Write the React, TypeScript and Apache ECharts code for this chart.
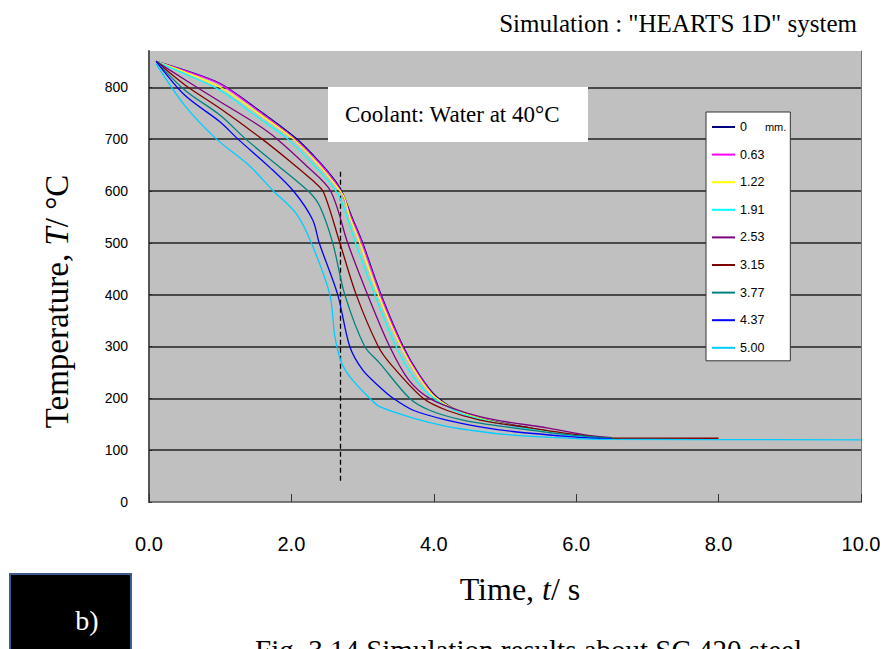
import React, { useEffect, useRef } from 'react';
import * as echarts from 'echarts';

// Distances (mm) from the surface and series colours
const seriesNames = ['0', '0.63', '1.22', '1.91', '2.53', '3.15', '3.77', '4.37', '5.00'];
const seriesColors = ['#000080', '#FF00FF', '#FFFF00', '#00FFFF', '#800080', '#800000', '#008080', '#0000FF', '#00CCFF'];

// [time s, temperature °C]
const d000 = [[0.1, 850], [0.5, 833], [1.0, 807], [1.5, 760], [2.07, 701], [2.4, 655], [2.63, 617], [2.72, 595], [2.85, 550], [3.0, 500], [3.26, 400], [3.57, 300], [3.8, 245], [4.04, 203], [4.41, 171], [4.83, 156], [5.35, 143], [5.82, 130], [6.24, 124], [6.5, 123]];
const d063 = [[0.1, 850], [0.5, 832], [1.0, 806], [1.5, 758], [2.05, 700], [2.4, 653], [2.62, 616], [2.71, 595], [2.84, 550], [2.99, 500], [3.25, 400], [3.56, 300], [3.8, 243], [4.03, 202], [4.4, 170], [4.8, 155], [5.3, 142], [5.8, 130], [6.3, 124], [6.55, 123]];
const d122 = [[0.1, 850], [0.5, 830], [1.0, 800], [1.5, 753], [2.03, 700], [2.4, 648], [2.6, 615], [2.74, 588], [2.82, 550], [2.96, 500], [3.22, 400], [3.54, 300], [3.78, 243], [4.02, 202], [4.4, 172], [4.8, 156], [5.3, 143], [5.8, 131], [6.3, 124], [6.55, 123]];
const d191 = [[0.1, 850], [0.5, 826], [1.0, 794], [1.5, 745], [1.95, 700], [2.35, 645], [2.6, 605], [2.72, 575], [2.9, 500], [3.17, 400], [3.47, 300], [3.72, 240], [4.0, 200], [4.4, 170], [4.8, 155], [5.3, 142], [5.8, 130], [6.3, 124], [6.55, 123]];
const d253 = [[0.1, 850], [0.5, 815], [1.0, 772], [1.5, 730], [1.8, 700], [2.2, 650], [2.55, 600], [2.79, 500], [3.07, 400], [3.38, 300], [3.65, 235], [3.94, 200], [4.41, 174], [4.88, 158], [5.59, 143], [6.1, 130], [6.5, 124]];
const d315 = [[0.1, 850], [0.5, 805], [1.0, 759], [1.59, 700], [2.0, 655], [2.3, 620], [2.45, 598], [2.68, 500], [2.91, 400], [3.22, 300], [3.4, 265], [3.85, 200], [4.18, 177], [4.65, 158], [5.35, 143], [6.06, 129], [6.52, 123], [8.0, 123]];
const d377 = [[0.1, 850], [0.5, 795], [1.0, 746], [1.36, 700], [1.8, 650], [2.25, 598], [2.4, 570], [2.58, 500], [2.75, 400], [3.03, 300], [3.24, 268], [3.66, 200], [3.94, 177], [4.41, 158], [5.11, 143], [5.82, 131], [6.3, 125], [6.5, 123]];
const d437 = [[0.1, 850], [0.5, 785], [1.0, 733], [1.25, 700], [1.7, 645], [2.04, 598], [2.3, 544], [2.39, 500], [2.65, 400], [2.82, 300], [3.0, 255], [3.24, 222], [3.43, 200], [3.71, 177], [4.18, 158], [4.65, 145], [5.11, 136], [5.82, 127], [6.24, 123], [6.5, 122]];
const d500 = [[0.1, 845], [0.5, 765], [0.94, 701], [1.4, 650], [1.74, 601], [2.07, 556], [2.28, 500], [2.54, 400], [2.61, 320], [2.7, 270], [2.82, 242], [3.1, 200], [3.24, 184], [3.71, 162], [4.18, 146], [4.65, 136], [5.11, 129], [5.59, 125], [6.3, 121], [10.0, 120]];
const seriesData = [d000, d063, d122, d191, d253, d315, d377, d437, d500];

// Axis ticks
const yGridValues = [100, 200, 300, 400, 500, 600, 700, 800];
const xMin = 0, xMax = 10, xStep = 2;
const yMin = 0, yMax = 870, yStep = 100;

// Dashed reference line (time, from T, to T)
const refTime = 2.68;
const refTop = 637;
const refBottom = 40;

const serif = '"Liberation Serif", "Times New Roman", serif';
const sans = '"Liberation Sans", Arial, sans-serif';

export default function App() {
  const ref = useRef<HTMLDivElement>(null);
  useEffect(() => {
    if (!ref.current) return;
    const chart = echarts.init(ref.current, null, { renderer: 'svg' });
    const lineSeries = seriesNames.map((name, i) => ({
      name,
      type: 'line',
      data: seriesData[i],
      showSymbol: false,
      symbol: 'none',
      smooth: 0.3,
      z: 3,
      lineStyle: { color: seriesColors[i], width: 1.3 },
      itemStyle: { color: seriesColors[i] },
    }));
    chart.setOption({
      animation: false,
      backgroundColor: '#ffffff',
      grid: {
        left: 149, top: 51, right: 25, bottom: 147,
        show: true, backgroundColor: '#C0C0C0', borderWidth: 0,
      },
      legend: {
        orient: 'vertical',
        left: 706,
        top: 112,
        z: 20,
        data: seriesNames,
        icon: 'rect',
        itemWidth: 23,
        itemHeight: 2,
        itemGap: 13.6,
        padding: [8, 4, 6, 6],
        backgroundColor: '#ffffff',
        borderColor: '#333333',
        borderWidth: 1,
        borderRadius: 0,
        selectedMode: false,
        textStyle: {
          fontFamily: sans, fontSize: 12.5, color: '#000', lineHeight: 14,
          rich: { u: { fontFamily: sans, fontSize: 11, color: '#000', padding: [0, 0, 0, 18] } },
        },
        formatter: (n: string) => (n === '0' ? '0{u|mm.}' : n),
      },
      xAxis: {
        type: 'value',
        min: xMin, max: xMax, interval: xStep,
        name: '{n|Time, }{i|t}{n|/ s}',
        nameLocation: 'middle',
        nameGap: 71,
        nameTextStyle: {
          padding: [0, 0, 0, 30],
          rich: {
            n: { fontFamily: serif, fontSize: 32, color: '#000' },
            i: { fontFamily: serif, fontSize: 32, fontStyle: 'italic', color: '#000' },
          },
        },
        axisLine: { show: true, lineStyle: { color: '#555', width: 1.5 } },
        axisTick: { show: true, inside: true, length: 8, lineStyle: { color: '#333', width: 1 } },
        axisLabel: {
          margin: 32, fontFamily: sans, fontSize: 20, color: '#000',
          formatter: (v: number) => v.toFixed(1),
        },
        splitLine: { show: false },
      },
      yAxis: [
        {
          type: 'value',
          min: yMin, max: yMax, interval: yStep,
          name: '{n|Temperature, }{i|T}{n|/ °C}',
          nameLocation: 'middle',
          nameGap: 76,
          nameRotate: 90,
          nameTextStyle: {
            padding: [0, 50, 0, 0],
            rich: {
              n: { fontFamily: serif, fontSize: 33, color: '#000' },
              i: { fontFamily: serif, fontSize: 33, fontStyle: 'italic', color: '#000' },
            },
          },
          axisLine: { show: true, lineStyle: { color: '#555', width: 2 } },
          axisTick: { show: true, inside: true, length: 3, lineStyle: { color: '#333' } },
          axisLabel: {
            margin: 21, fontFamily: sans, fontSize: 14, color: '#000', showMaxLabel: false,
          },
          splitLine: { show: false },
        },
        {
          type: 'value', position: 'right', min: yMin, max: yMax,
          axisLine: { show: true, lineStyle: { color: '#777', width: 1 } },
          axisTick: { show: false }, axisLabel: { show: false }, splitLine: { show: false },
        },
      ],
      series: [
        {
          name: 'grid',
          type: 'line',
          data: [],
          z: 2,
          markLine: {
            silent: true,
            z: 2,
            symbol: ['none', 'none'],
            label: { show: false },
            lineStyle: { color: '#222', width: 1.6, type: 'solid' },
            data: [
              ...yGridValues.map((v) => ({ yAxis: v })),
              [
                { coord: [refTime, refTop], lineStyle: { color: '#000', width: 1.3, type: [5, 3] } },
                { coord: [refTime, refBottom] },
              ],
            ],
          },
        },
        ...lineSeries,
      ],
      graphic: [
        {
          type: 'text', right: 29, top: 11,
          style: { text: 'Simulation : "HEARTS 1D" system', font: `25px ${serif}`, fill: '#000' },
        },
        {
          type: 'rect', shape: { x: 328, y: 87, width: 260, height: 55 },
          style: { fill: '#fff' }, z: 10,
        },
        {
          type: 'text', x: 345, y: 114, z: 11,
          style: { text: 'Coolant: Water at 40°C', font: `23px ${serif}`, fill: '#000', verticalAlign: 'middle' },
        },
        {
          type: 'rect', shape: { x: 10, y: 574, width: 121, height: 80 },
          style: { fill: '#000', stroke: '#3B5C8C', lineWidth: 2 },
        },
        {
          type: 'text', x: 87, y: 620,
          style: { text: 'b)', font: `28px ${serif}`, fill: '#fff', align: 'center', verticalAlign: 'middle' },
        },
        {
          type: 'text', x: 255, y: 635,
          style: { text: 'Fig. 3.14 Simulation results about SC 420 steel', font: `29px ${serif}`, fill: '#000', verticalAlign: 'top' },
        },
      ],
    });
    return () => chart.dispose();
  }, []);
  return (
    <div
      ref={ref}
      style={{ position: 'fixed', left: 0, top: 0, width: 886, height: 649, overflow: 'hidden' }}
    />
  );
}
